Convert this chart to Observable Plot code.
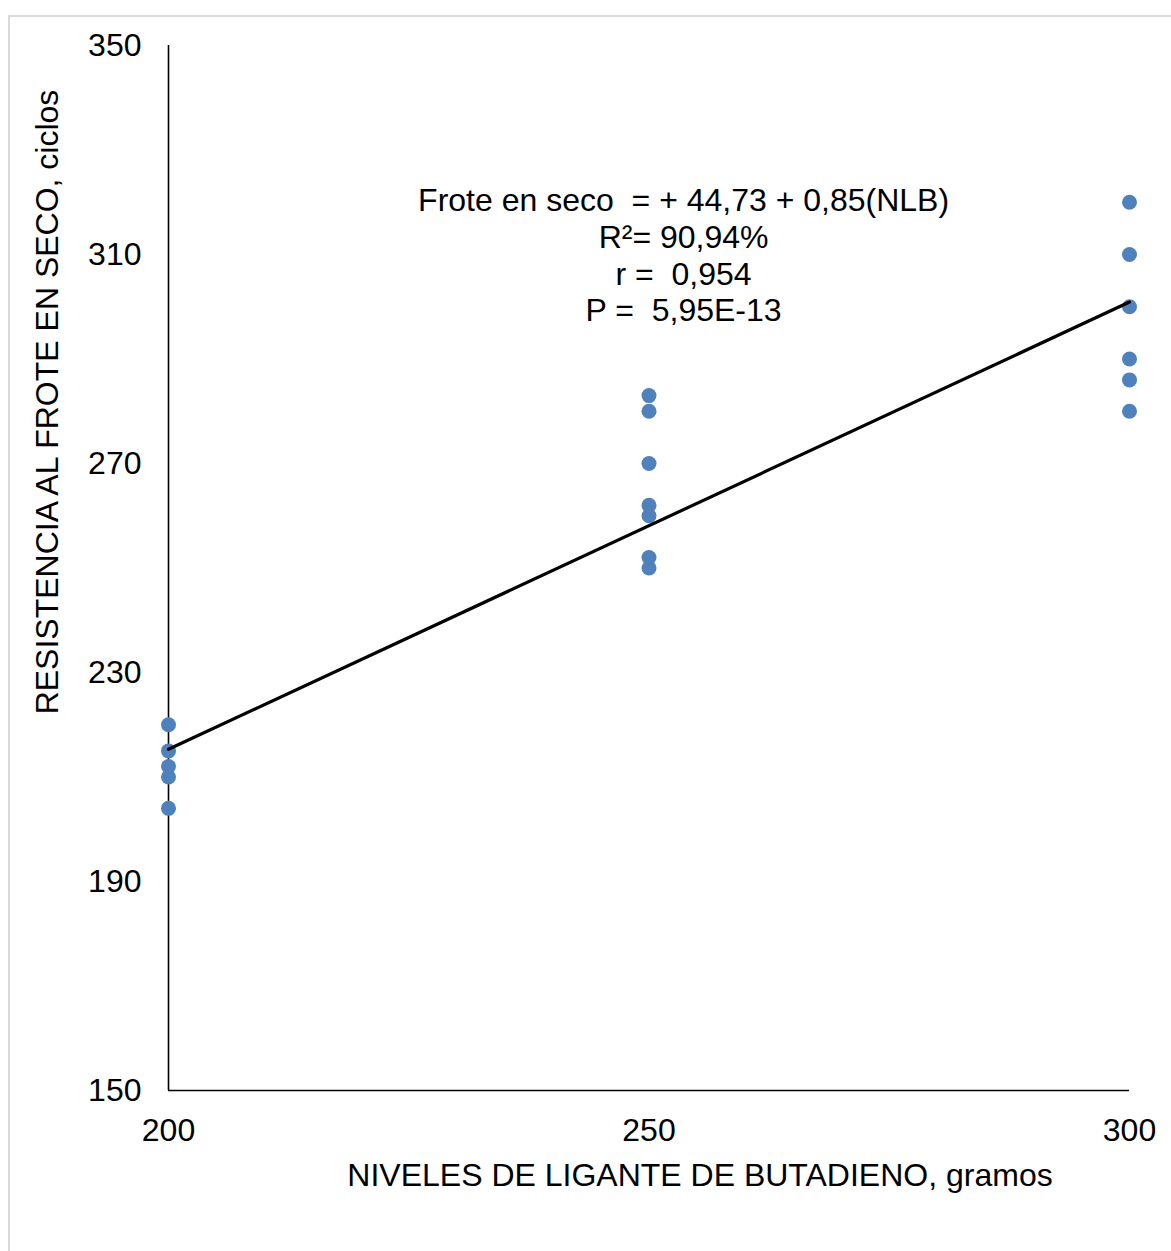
<!DOCTYPE html>
<html>
<head>
<meta charset="utf-8">
<script src="https://cdn.jsdelivr.net/npm/d3@7"></script>
<script src="https://cdn.jsdelivr.net/npm/@observablehq/plot@0.6"></script>
<style>
  html, body { margin: 0; padding: 0; background: #fff; }
  #wrap { position: relative; width: 1171px; height: 1251px; overflow: hidden; }
  #border { position: absolute; left: 8px; top: 15px; width: 1200px; height: 1300px;
            border-left: 2px solid #d9d9d9; border-top: 2px solid #d9d9d9; box-sizing: border-box; }
  #chart { position: absolute; left: 0; top: 0; }
</style>
</head>
<body>
<div id="wrap"><div id="border"></div><div id="chart"></div></div>
<script>
// Data
const levels200 = [220, 215, 212, 210, 204];
const levels250 = [283, 280, 270, 262, 260, 252, 250];
const levels300 = [320, 310, 300, 290, 286, 280];
const xLevels = [200, 250, 300];
const yTicks = [150, 190, 230, 270, 310, 350];
const trendX = [200, 300];
const trendY = [215.3, 300.9];
const annotationLines = [
  "Frote en seco  = + 44,73 + 0,85(NLB)",
  "R²= 90,94%",
  "r =  0,954",
  "P =  5,95E-13"
];
const xTitle = "NIVELES DE LIGANTE DE BUTADIENO, gramos";
const yTitle = "RESISTENCIA AL FROTE EN SECO, ciclos";

const points = [
  ...levels200.map(v => ({x: 200, y: v})),
  ...levels250.map(v => ({x: 250, y: v})),
  ...levels300.map(v => ({x: 300, y: v}))
];
const trend = trendX.map((x, i) => ({x, y: trendY[i]}));

const FS = 32;
const chart = Plot.plot({
  width: 1171,
  height: 1251,
  marginLeft: 168,
  marginRight: 42,
  marginTop: 45,
  marginBottom: 161,
  style: {fontFamily: "'Liberation Sans', Arial, sans-serif", fontSize: FS + "px", color: "#000", background: "transparent"},
  x: {domain: [200, 300], ticks: xLevels, tickSize: 0, tickPadding: 28, label: null, tickFormat: d => String(d)},
  y: {domain: [150, 350], ticks: yTicks, tickSize: 0, tickPadding: 27, label: null, tickFormat: d => String(d)},
  marks: [
    Plot.ruleX([200], {stroke: "#000", strokeWidth: 1.6}),
    Plot.ruleY([150], {stroke: "#000", strokeWidth: 1.6}),
    Plot.dot(points, {x: "x", y: "y", r: 7.5, fill: "#4F81BD", stroke: "none"}),
    Plot.line(trend, {x: "x", y: "y", stroke: "#000", strokeWidth: 3.2}),
    Plot.text([annotationLines.join("\n")], {x: 253.6, y: 310.0, text: d => d, fontSize: FS, lineHeight: 1.15, textAnchor: "middle", lineAnchor: "middle", fill: "#000"}),
    Plot.text([xTitle], {frameAnchor: "bottom", dx: 51, dy: 85, text: d => d, fontSize: FS, textAnchor: "middle", lineAnchor: "middle", fill: "#000"}),
    Plot.text([yTitle], {frameAnchor: "left", dx: -121, dy: -166, rotate: -90, text: d => d, fontSize: FS, textAnchor: "middle", lineAnchor: "middle", fill: "#000"})
  ]
});
document.getElementById("chart").appendChild(chart);
</script>
</body>
</html>
